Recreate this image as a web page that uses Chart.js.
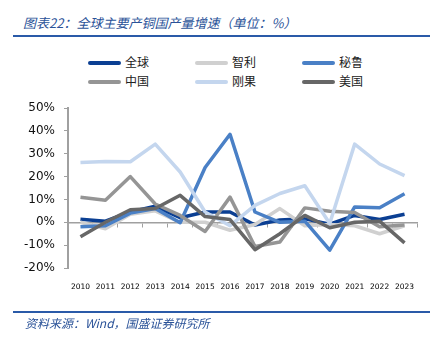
<!DOCTYPE html>
<html>
<head>
<meta charset="utf-8">
<script src="https://cdn.jsdelivr.net/npm/chart.js@4.4.1/dist/chart.umd.min.js"></script>
<style>
  body { margin: 0; background: #fff; }
  .page { position: relative; width: 438px; height: 337px; overflow: hidden; font-family: "Noto Sans CJK SC", sans-serif; }
  .title { position: absolute; left: 23px; top: 13px; font-size: 13px; font-style: italic; color: #2a5298; white-space: nowrap; }
  .rule { position: absolute; left: 13px; width: 417px; height: 2px; background: #2a5aa8; }
  .legend .item { position: absolute; height: 14px; font-size: 12px; color: #222; line-height: 14px; white-space: nowrap; }
  .legend .mark { position: absolute; left: 0; top: 5px; width: 33px; height: 4px; border-radius: 2px; }
  .legend .txt { position: absolute; left: 37px; top: -1px; }
  .source { position: absolute; left: 25px; top: 314px; font-size: 12px; font-style: italic; color: #2a5298; white-space: nowrap; }
  canvas { position: absolute; left: 0; top: 0; }
</style>
</head>
<body>
<div class="page">
  <div class="title">图表22：全球主要产铜国产量增速（单位：%）</div>
  <div class="rule" style="top:35px"></div>
  <div class="legend" id="legend"></div>
  <canvas id="myChart" width="438" height="337"></canvas>
  <div class="rule" style="top:311px"></div>
  <div class="source">资料来源：Wind，国盛证券研究所</div>
</div>
<script>
const years = ['2010', '2011', '2012', '2013', '2014', '2015', '2016', '2017', '2018', '2019', '2020', '2021', '2022', '2023'];

// 各国铜产量增速 (%)
const quanqiu = [1.3, 0.5, 4.5, 7, 2, 4.5, 4.5, -1.2, 1, 1.5, -0.8, 3, 1.2, 3.5];
const zhili   = [0, -2.8, 3.5, 5, 0, 0, -3.5, -1, 6, -1.5, -1, -1.5, -5, -1.5];
const bilu    = [-2, -1.5, 4, 6, -0.2, 24, 38.5, 4.5, 0, 0.5, -12.2, 6.7, 6.4, 12.5];
const zhongguo = [11, 9.6, 20, 8, 3, -4, 11, -10.6, -8.6, 6.3, 4.8, 4.3, -2, -1.2];
const gangguo = [26.2, 26.6, 26.5, 34.2, 22, 4.5, -1.5, 7.4, 12.6, 16, -0.5, 34.2, 25.5, 20.4];
const meiguo  = [-6.3, 0, 5.5, 6, 11.8, 2.5, 1.2, -12, -5, 3, -2.4, 0, 0.5, -9];

const yTicks = [-20, -10, 0, 10, 20, 30, 40, 50];

const series = [
    { name: '全球', data: quanqiu, color: '#0b3f93' },
    { name: '智利', data: zhili, color: '#d0d0d0' },
    { name: '秘鲁', data: bilu, color: '#4a80c6' },
    { name: '中国', data: zhongguo, color: '#959595' },
    { name: '刚果', data: gangguo, color: '#c4d6ee' },
    { name: '美国', data: meiguo, color: '#676767' },
];

// leyenda en html, 3 columnas x 2 filas
const $legend = document.querySelector('#legend');
const colX = [88, 195, 302];
const rowY = [56, 75];
series.forEach((s, i) => {
    const item = document.createElement('div');
    item.className = 'item';
    item.style.left = colX[i % 3] + 'px';
    item.style.top = rowY[Math.floor(i / 3)] + 'px';
    item.innerHTML = '<span class="mark" style="background:' + s.color + '"></span><span class="txt">' + s.name + '</span>';
    $legend.appendChild(item);
});

const axisColor = '#a0a0a0';

const cv = document.querySelector('#myChart').getContext('2d');
const myChart = new Chart(cv, {
    type: 'line',
    data: {
        labels: years,
        datasets: series.map((s, i) => ({
            label: s.name,
            data: s.data,
            borderColor: s.color,
            backgroundColor: s.color,
            borderWidth: 3.5,
            pointRadius: 0,
            tension: 0,
            borderJoinStyle: 'round',
            order: series.length - i,
        }))
    },
    options: {
        responsive: false,
        animation: false,
        events: [],
        layout: { padding: { top: 108, right: 21, bottom: 0, left: 0 } },
        plugins: {
            legend: { display: false },
            tooltip: { enabled: false },
        },
        scales: {
            x: {
                type: 'category',
                position: 'bottom',
                offset: true,
                grid: { display: false },
                border: { display: false },
                ticks: { color: '#000', padding: 7, font: { family: 'DejaVu Sans', size: 7.5 }, maxRotation: 0, autoSkip: false },
                afterFit: (scale) => { scale.height = 69; },
            },
            x0: {
                type: 'category',
                position: { y: 0 },
                offset: true,
                grid: { offset: true, drawOnChartArea: false, drawTicks: true, tickLength: 4, color: axisColor, lineWidth: 1 },
                border: { display: true, color: axisColor, width: 1.5 },
                ticks: { display: false },
            },
            y: {
                min: -20,
                max: 50,
                afterBuildTicks: (scale) => { scale.ticks = yTicks.map(v => ({ value: v })); },
                grid: { drawOnChartArea: false, drawTicks: true, tickLength: 4, color: axisColor },
                border: { display: true, color: axisColor, width: 2 },
                ticks: {
                    color: '#111',
                    padding: 9,
                    font: { family: 'DejaVu Sans', size: 12 },
                    callback: (v) => v + '%',
                },
                afterFit: (scale) => { scale.width = 68; },
            }
        }
    }
});
</script>
</body>
</html>
